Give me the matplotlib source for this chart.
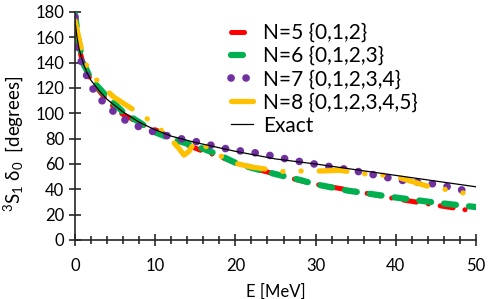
import numpy as np
import matplotlib
matplotlib.use('Agg')
import matplotlib.pyplot as plt
from matplotlib.ticker import MultipleLocator

plt.rcParams['font.family'] = ['Lato', 'DejaVu Sans']
plt.rcParams['mathtext.fontset'] = 'custom'
plt.rcParams['mathtext.rm'] = 'Lato'
plt.rcParams['mathtext.it'] = 'Lato:italic'
plt.rcParams['lines.scale_dashes'] = False

# exact phase shift
e_exact = [0, 0.25, 0.5, 1, 1.5, 2, 3, 4, 5, 6, 7, 8, 10, 12, 15, 20, 25, 30, 35, 40, 45, 50]
d_exact = [173, 160, 151, 140, 132, 126, 118, 111, 106, 101, 97, 93, 87, 82, 77, 70, 64, 60, 55.5, 51, 46.5, 42]

# N=5
e_n5 = [0, 0.5, 1, 2, 3, 4, 5, 6, 7, 8, 10, 12, 14, 16, 18, 20, 22, 25, 28, 30, 35, 40, 45, 50]
d_n5 = [176, 152, 139, 126, 118, 110, 104, 99, 96, 92, 87, 81, 75, 70, 66, 61, 57, 52, 47, 44, 38.5, 32.5, 27.5, 22.5]

# N=6
e_n6 = [0, 0.5, 1, 2, 3, 4, 5, 6, 7, 8, 10, 12, 14, 16, 18, 20, 22, 25, 28, 30, 34, 40, 45, 50]
d_n6 = [178, 155, 140, 127, 120, 113, 107, 101, 97, 93, 85, 80, 76, 72, 67, 61, 57, 52, 47.5, 44, 39, 33.5, 29.5, 26]

# N=7
e_n7 = [0, 0.3, 1, 1.7, 2.6, 3.9, 5.3, 6.9, 8.6, 10.5, 12.3, 14, 16, 17.8, 19.7, 21.5, 23.4, 25.2,
        27.1, 28.9, 30.8, 32.7, 34.6, 36.5, 38.4, 40.3, 42, 44, 45.9, 47.8, 49.6, 50]
d_n7 = [176, 150, 137, 126, 115, 106.5, 98.6, 92, 88, 84, 81, 79, 76.5, 73.4, 71, 69.7, 68, 65.5,
        63, 61, 59, 57, 55, 52.5, 50, 47.5, 46, 45, 43, 40, 38, 37.5]

# N=8
e_n8 = [0, 0.9, 1.6, 3, 4.8, 6.5, 8.3, 10, 11.8, 13, 13.6, 14.2, 15, 15.6, 16.5, 17.4, 19.7, 22,
        26, 28.4, 30.8, 33, 37, 39.5, 41.8, 43.9, 47.8, 48.5]
d_n8 = [173, 148, 135, 124, 113, 106, 99, 91, 80.5, 72, 67, 70, 78, 77, 73, 69, 61, 57.6,
        54, 54.5, 54.5, 55, 51.5, 51, 46.6, 42.6, 38, 37]

fig = plt.figure(figsize=(4.98, 2.99), dpi=100)
ax = fig.add_axes([75/498, 1-240/299, 401/498, 228/299])

ax.plot(e_n5, d_n5, color='#FF0000', lw=3.6, dashes=(9.4, 8.6, 0.1, 8.6),
        dash_capstyle='round', label='N=5 {0,1,2}')
ax.plot(e_n6, d_n6, color='#00B050', lw=4.5, dashes=(8.6, 9.4),
        dash_capstyle='round', label='N=6 {0,1,2,3}')
ax.plot(e_n7, d_n7, color='#7030A0', lw=5.5, dashes=(0.1, 10.7),
        dash_capstyle='round', label='N=7 {0,1,2,3,4}')
ax.plot(e_n8, d_n8, color='#FFC000', lw=3.8, dashes=(20, 13, 0.1, 13, 0.1, 13),
        dash_capstyle='round', label='N=8 {0,1,2,3,4,5}')
ax.plot(e_exact, d_exact, color='black', lw=0.9, label='Exact')

ax.set_xlim(0, 50)
ax.set_ylim(0, 180)
ax.xaxis.set_major_locator(MultipleLocator(10))
ax.xaxis.set_minor_locator(MultipleLocator(2))
ax.yaxis.set_major_locator(MultipleLocator(20))
for s in ['top', 'right']:
    ax.spines[s].set_visible(False)
for s in ['left', 'bottom']:
    ax.spines[s].set_linewidth(1.2)
    ax.spines[s].set_color('#262626')
ax.tick_params(which='major', direction='inout', length=8.5, width=1.2, color='#262626',
               labelsize=12)
ax.tick_params(which='minor', direction='inout', length=6, width=1.2, color='#262626')
ax.tick_params(axis='x', pad=8.5)
ax.tick_params(axis='y', pad=3.5)

ax.set_xlabel('E [MeV]', fontsize=12, labelpad=7)
ax.set_ylabel(r'$^{3}$S$_{1}$ δ$_{0}$  [degrees]', fontsize=13.5)
ax.yaxis.set_label_coords(-0.125, 0.42)

ax.legend(loc='upper left', bbox_to_anchor=(231/498, 1-23/299), bbox_transform=fig.transFigure,
          frameon=False, fontsize=15, handlelength=1.05, handletextpad=0.5,
          labelspacing=0.15, borderpad=0, borderaxespad=0)

fig.savefig('out.png', dpi=100)
